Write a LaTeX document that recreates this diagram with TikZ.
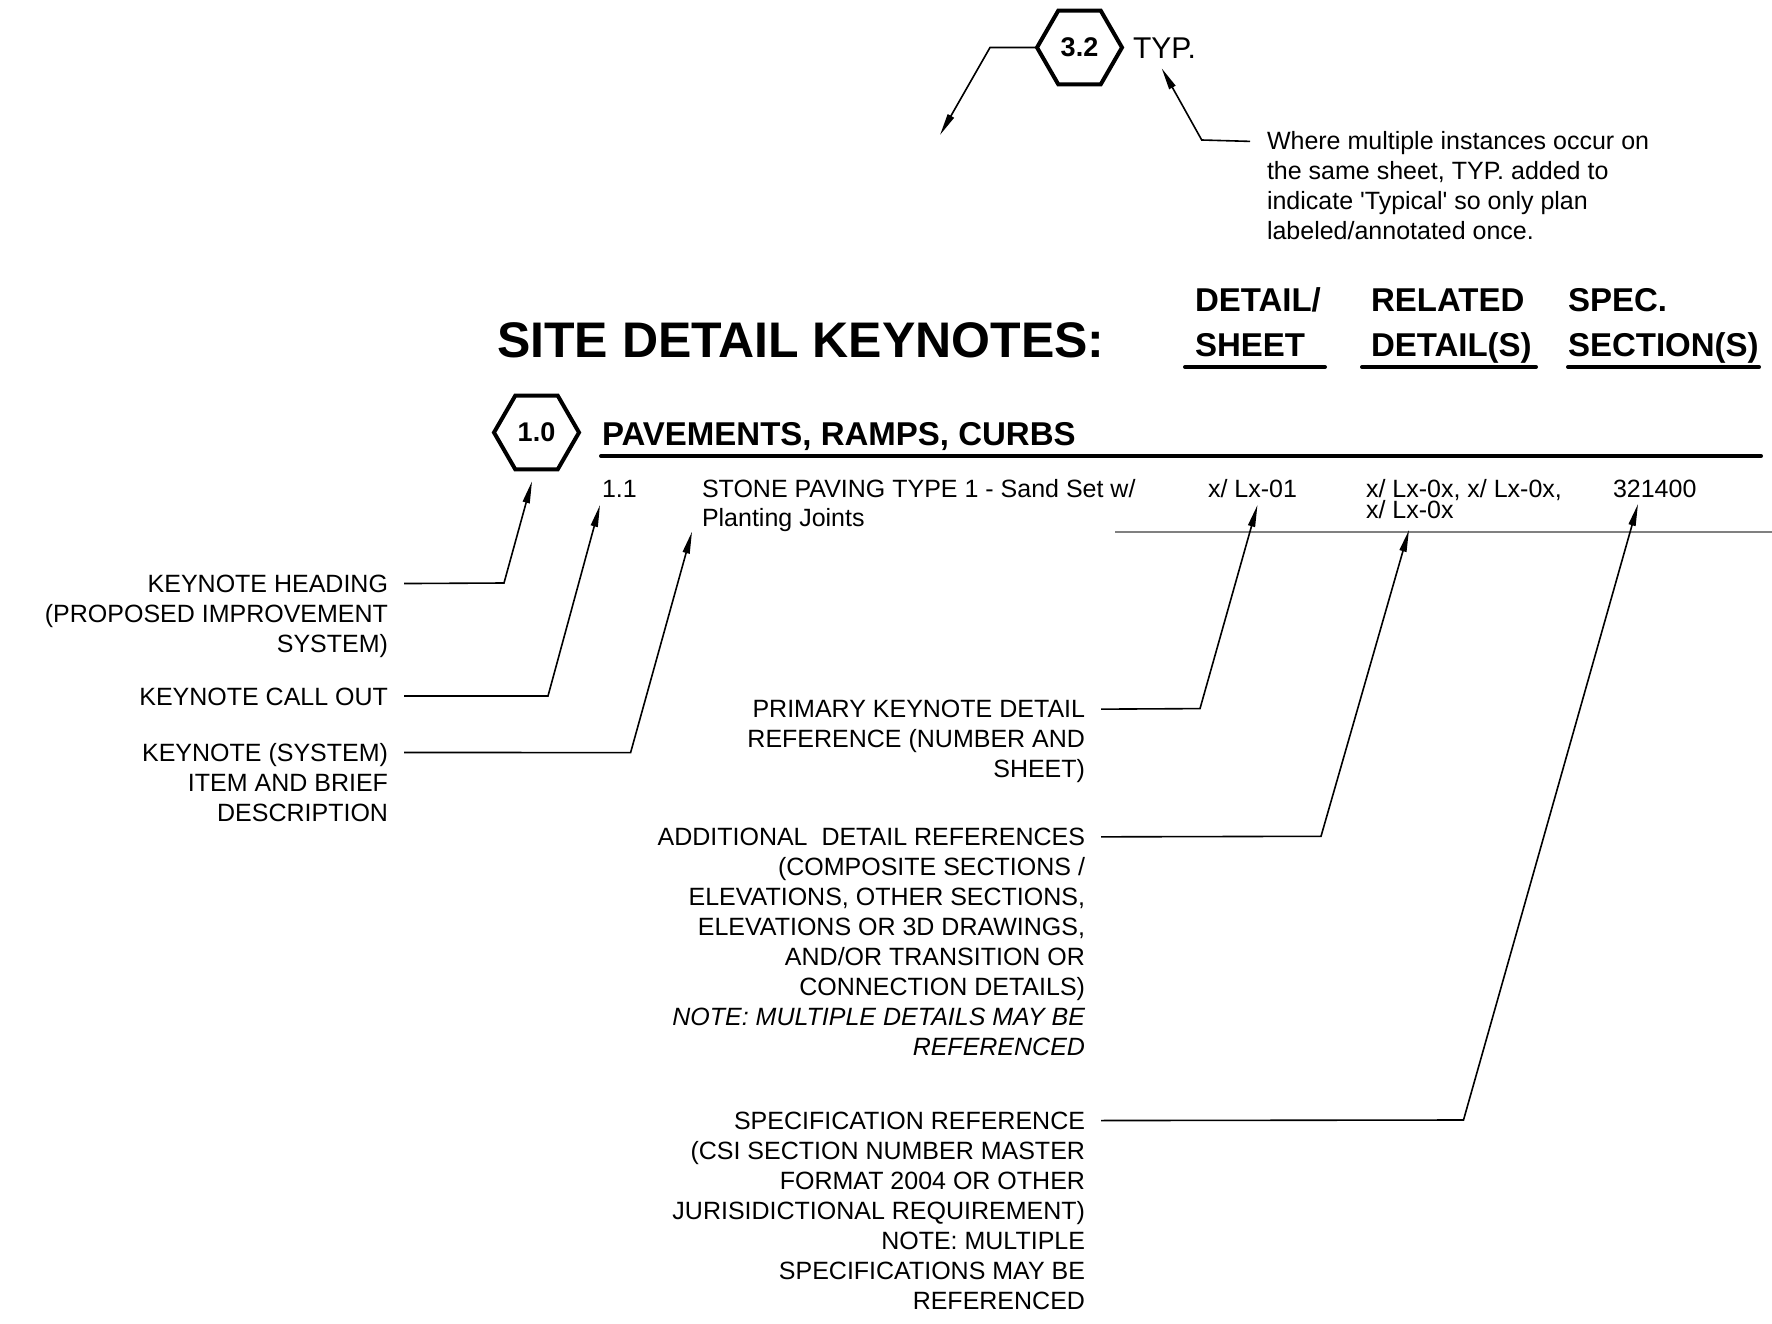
\documentclass[tikz,border=0pt]{standalone}
\usepackage{fontspec}
\setmainfont{Liberation Sans}[Ligatures=TeXOff]
\usetikzlibrary{arrows.meta,shapes.geometric,calc}
\definecolor{rulegray}{RGB}{128,128,128}
\begin{document}
\begin{tikzpicture}[x=1pt,y=-1pt,
  every node/.style={inner sep=0pt, outer sep=0pt},
  body/.style={font=\fontsize{25}{30}\selectfont},
  lbl/.style={body, align=right, anchor=base east},
  hdr/.style={font=\bfseries\fontsize{33}{44.3}\selectfont, align=left, anchor=base west},
  hexa/.style={regular polygon, regular polygon sides=6, minimum size=85pt, draw, line width=4pt, font=\bfseries\fontsize{27}{30}\selectfont},
  ldr/.style={line width=1.6pt, -{Triangle[length=22pt,width=7pt]}},
  thickrule/.style={line width=4pt, line cap=round}
]
\fill[white] (0,0) rectangle (1772,1324);
\useasboundingbox (0,0) rectangle (1772,1324);

% top: typical callout
\node[hexa] (h32) at (1079.5,47.5) {3.2};
\node[anchor=base west, font=\fontsize{30}{36}\selectfont] (typ) at (1133,58.3) {TYP.};
\node[body, align=left, anchor=base west] (note) at (1267,240) {Where multiple instances occur on\\the same sheet, TYP. added to\\indicate 'Typical' so only plan\\labeled/annotated once.};
\coordinate (free) at (940,135);
\draw[ldr] (h32.west) -- (990,47.5) -- (free);
\draw[ldr] ([shift={(-17pt,-9.5pt)}]note.north west) -- (1201.7,140) -- ([shift={(28.7pt,-10pt)}]typ.base west);

% title and column headers
\node[anchor=base west, font=\bfseries\fontsize{50}{60}\selectfont] (title) at (497,357) {SITE DETAIL KEYNOTES:};
\node[hdr] (c1) at (1195,356.3) {DETAIL/\\SHEET};
\node[hdr] (c2) at (1371,356.3) {RELATED\\DETAIL(S)};
\node[hdr] (c3) at (1568,356.3) {SPEC.\\SECTION(S)};
\draw[thickrule] (1185,367) -- (1325,367);
\draw[thickrule] (1362,367) -- (1536,367);
\draw[thickrule] (1568,367) -- (1759,367);

% section heading
\node[hexa] (h10) at (536.5,432.5) {1.0};
\node[anchor=base west, font=\bfseries\fontsize{33}{40}\selectfont] (sec) at (602,445) {PAVEMENTS, RAMPS, CURBS};
\draw[thickrule] (601,456) -- (1761,456);

% item row
\node[body, anchor=base west] (n11) at (602,497) {1.1};
\node[font=\fontsize{25}{29.5}\selectfont, align=left, anchor=base west] (desc) at (702,526.5) {STONE PAVING TYPE 1 - Sand Set w/\\Planting Joints};
\node[body, anchor=base west] (ref1) at (1208,497) {x/ Lx-01};
\node[font=\fontsize{25}{21.7}\selectfont, align=left, anchor=base west] (ref2) at (1366,518.7) {x/ Lx-0x, x/ Lx-0x,\\x/ Lx-0x};
\node[body, anchor=base west] (spec) at (1613,497) {321400};
\draw[rulegray, line width=2pt] (1115,531.7) -- (1772,531.7);

% left labels
\node[lbl] (lh) at (388,652) {KEYNOTE HEADING\\(PROPOSED IMPROVEMENT\\SYSTEM)};
\node[lbl] (lco) at (388,705) {KEYNOTE CALL OUT};
\node[lbl] (ls) at (388,821.6) {KEYNOTE (SYSTEM)\\ITEM AND BRIEF\\DESCRIPTION};

% middle labels
\node[lbl] (lp) at (1085,777.6) {PRIMARY KEYNOTE DETAIL\\REFERENCE (NUMBER AND\\SHEET)};
\node[lbl] (la) at (1085,1055.3) {ADDITIONAL\ \ DETAIL REFERENCES\\(COMPOSITE SECTIONS /\\ELEVATIONS, OTHER SECTIONS,\\ELEVATIONS OR 3D DRAWINGS,\\AND/OR TRANSITION OR\\CONNECTION DETAILS)\\{\itshape NOTE: MULTIPLE DETAILS MAY BE}\\{\itshape REFERENCED}};
\node[lbl] (lsp) at (1085,1309) {SPECIFICATION REFERENCE\\(CSI SECTION NUMBER MASTER\\FORMAT 2004 OR OTHER\\JURISIDICTIONAL REQUIREMENT)\\NOTE: MULTIPLE\\SPECIFICATIONS MAY BE\\REFERENCED};

% leaders
\draw[ldr] ([shift={(16pt,-9pt)}]lh.north east) -- (504,583) -- ([shift={(-4.5pt,-12pt)}]h10.south);
\draw[ldr] ([shift={(16pt,9pt)}]lco.base east) -- (548,696) -- ([shift={(-2pt,-8pt)}]n11.base west);
\draw[ldr] ([shift={(16pt,-9pt)}]ls.north east) -- (630.6,752.6) -- ([xshift=-10pt]desc.south west);
\draw[ldr] ([shift={(16pt,-9pt)}]lp.north east) -- (1200,708.6) -- ([shift={(5pt,-8pt)}]ref1.base);
\draw[ldr] ([shift={(16pt,-9pt)}]la.north east) -- (1321,836.3) -- ([shift={(43pt,-11pt)}]ref2.south west);
\draw[ldr] ([shift={(16pt,-9pt)}]lsp.north east) -- (1463.5,1120) -- ([shift={(-16.7pt,-7pt)}]spec.base);
\end{tikzpicture}
\end{document}
